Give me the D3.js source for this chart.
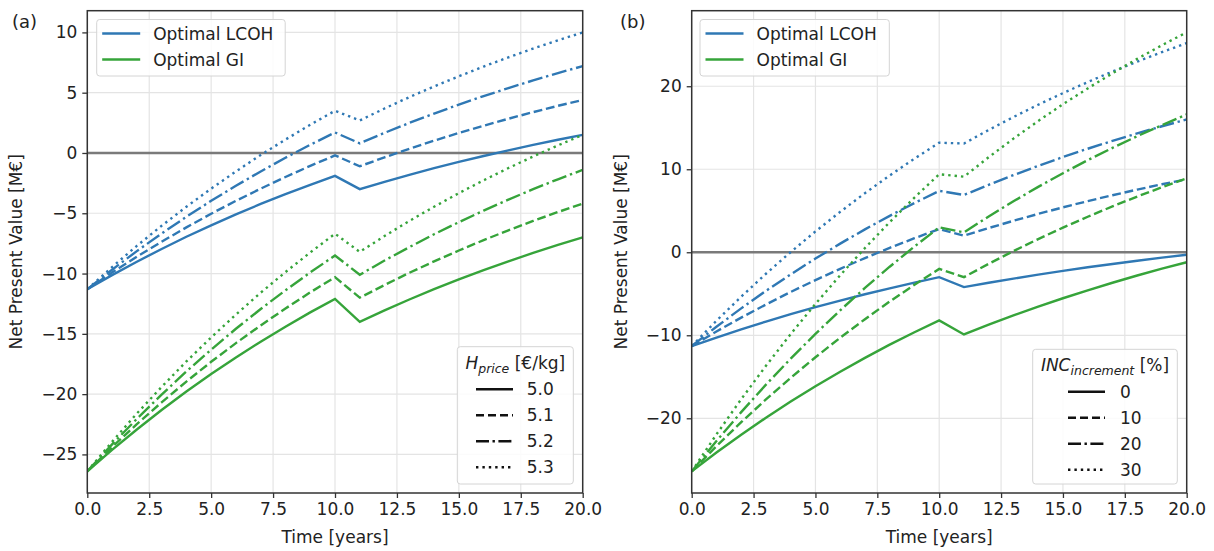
<!DOCTYPE html>
<html><head><meta charset="utf-8">
<script src="https://cdn.jsdelivr.net/npm/d3@7"></script>
<style>
body{margin:0;background:#fff;}
svg{font-family:"DejaVu Sans",sans-serif;}
</style></head>
<body>
<svg id="chart" width="1214" height="551"></svg>
<script>
// ---------- DATA ----------
const years = [0,1,2,3,4,5,6,7,8,9,10,11,12,13,14,15,16,17,18,19,20];
const xTicks = [0,2.5,5,7.5,10,12.5,15,17.5,20];
const yTicksA = [-25,-20,-15,-10,-5,0,5,10];
const yTicksB = [-20,-10,0,10,20];
const legendLabelsA = ["5.0","5.1","5.2","5.3"];
const legendLabelsB = ["0","10","20","30"];
const seriesNames = ["Optimal LCOH","Optimal GI"];

// Panel (a): H_price sensitivity
const a_LCOH_50 = [-11.3,-10.13,-9.02,-7.96,-6.95,-6.00,-5.10,-4.23,-3.42,-2.64,-1.90,-3.00,-2.39,-1.81,-1.26,-0.74,-0.25,0.22,0.67,1.10,1.50];
const a_LCOH_51 = [-11.3,-9.92,-8.60,-7.36,-6.17,-5.04,-3.97,-2.96,-1.99,-1.07,-0.20,-1.10,-0.36,0.35,1.02,1.66,2.26,2.84,3.39,3.91,4.40];
const a_LCOH_52 = [-11.3,-9.68,-8.14,-6.68,-5.29,-3.97,-2.72,-1.53,-0.40,0.68,1.70,0.80,1.67,2.49,3.27,4.01,4.72,5.38,6.02,6.63,7.20];
const a_LCOH_53 = [-11.3,-9.46,-7.70,-6.04,-4.46,-2.96,-1.53,-0.17,1.11,2.34,3.50,2.70,3.69,4.63,5.52,6.36,7.17,7.93,8.66,9.34,10.00];
const a_GI_50 = [-26.4,-24.62,-22.93,-21.32,-19.79,-18.34,-16.96,-15.65,-14.41,-13.22,-12.10,-14.00,-13.05,-12.15,-11.30,-10.49,-9.72,-8.99,-8.29,-7.63,-7.00];
const a_GI_51 = [-26.4,-24.39,-22.49,-20.68,-18.96,-17.32,-15.77,-14.30,-12.90,-11.56,-10.30,-12.00,-10.95,-9.94,-8.99,-8.09,-7.23,-6.41,-5.64,-4.90,-4.20];
const a_GI_52 = [-26.4,-24.17,-22.05,-20.04,-18.12,-16.31,-14.58,-12.94,-11.39,-9.91,-8.50,-10.10,-8.92,-7.81,-6.74,-5.74,-4.78,-3.87,-3.00,-2.18,-1.40];
const a_GI_53 = [-26.4,-23.95,-21.61,-19.40,-17.29,-15.30,-13.40,-11.59,-9.88,-8.25,-6.70,-8.20,-6.89,-5.64,-4.46,-3.33,-2.27,-1.25,-0.29,0.63,1.50];

// Panel (b): INC increment sensitivity
const b_LCOH_0  = [-11.3,-10.27,-9.28,-8.35,-7.46,-6.62,-5.82,-5.06,-4.34,-3.65,-3.00,-4.20,-3.67,-3.17,-2.70,-2.24,-1.81,-1.41,-1.02,-0.65,-0.30];
const b_LCOH_10 = [-11.3,-9.54,-7.87,-6.29,-4.78,-3.35,-1.99,-0.70,0.53,1.69,2.80,2.00,2.92,3.79,4.62,5.41,6.16,6.87,7.55,8.19,8.80];
const b_LCOH_20 = [-11.3,-8.97,-6.76,-4.65,-2.66,-0.76,1.04,2.76,4.39,5.93,7.40,6.90,8.13,9.30,10.41,11.47,12.47,13.42,14.32,15.18,16.00];
const b_LCOH_30 = [-11.3,-8.25,-5.35,-2.59,0.03,2.51,4.87,7.12,9.25,11.28,13.20,13.10,14.74,16.29,17.77,19.17,20.50,21.77,22.97,24.11,25.20];
const b_GI_0  = [-26.4,-24.13,-21.98,-19.93,-17.99,-16.14,-14.39,-12.72,-11.13,-9.63,-8.20,-9.90,-8.72,-7.61,-6.54,-5.54,-4.58,-3.67,-2.80,-1.98,-1.20];
const b_GI_10 = [-26.4,-23.36,-20.47,-17.73,-15.12,-12.65,-10.29,-8.06,-5.93,-3.92,-2.00,-3.00,-1.39,0.14,1.59,2.97,4.28,5.52,6.71,7.83,8.90];
const b_GI_20 = [-26.4,-22.74,-19.26,-15.95,-12.81,-9.83,-6.99,-4.30,-1.74,0.69,3.00,2.40,4.32,6.14,7.88,9.52,11.09,12.57,13.98,15.32,16.60];
const b_GI_30 = [-26.4,-21.94,-17.70,-13.68,-9.85,-6.22,-2.77,0.51,3.63,6.59,9.40,9.10,11.45,13.69,15.81,17.83,19.74,21.56,23.30,24.94,26.50];

// ---------- STYLE ----------
const BLUE = "#2f78b4", GREEN = "#36a43a";
const LW = 2.4;
const dashes = [null, "8.8,3.8", "15,3.8,2.4,3.8", "2.4,4"];
const legendDashes = [null, "8,4", "13,3.5,2.4,3.5", "2.4,4"];
const FS = 17;

const svg = d3.select("#chart");

function panel(opts){
  const {x0,x1,y0,y1,yDomain,yTicks,blue,green,tag,labelX,legendTitle,legendLabels,lg} = opts;
  const x = d3.scaleLinear().domain([0,20]).range([x0,x1]);
  const y = d3.scaleLinear().domain(yDomain).range([y1,y0]);
  const g = svg.append("g");

  // grid
  g.append("g").selectAll("line").data(xTicks).join("line")
    .attr("x1",d=>x(d)).attr("x2",d=>x(d)).attr("y1",y0).attr("y2",y1)
    .attr("stroke","#e4e4e4").attr("stroke-width",1.2);
  g.append("g").selectAll("line").data(yTicks).join("line")
    .attr("y1",d=>y(d)).attr("y2",d=>y(d)).attr("x1",x0).attr("x2",x1)
    .attr("stroke","#e4e4e4").attr("stroke-width",1.2);

  // zero line
  g.append("line").attr("x1",x0).attr("x2",x1).attr("y1",y(0)).attr("y2",y(0))
    .attr("stroke","#7a7a7a").attr("stroke-width",2.5);

  const line = d3.line().x((d,i)=>x(years[i])).y(d=>y(d));
  const clipId = "clip"+tag;
  svg.append("clipPath").attr("id",clipId).append("rect")
    .attr("x",x0).attr("y",y0).attr("width",x1-x0).attr("height",y1-y0);
  const lines = g.append("g").attr("clip-path",`url(#${clipId})`);
  blue.forEach((s,i)=>{
    lines.append("path").attr("d",line(s)).attr("fill","none").attr("stroke",BLUE)
      .attr("stroke-width",LW).attr("stroke-dasharray",dashes[i]);
  });
  green.forEach((s,i)=>{
    lines.append("path").attr("d",line(s)).attr("fill","none").attr("stroke",GREEN)
      .attr("stroke-width",LW).attr("stroke-dasharray",dashes[i]);
  });

  // axes
  const fmtX = d3.format(".1f");
  const xAxis = d3.axisBottom(x).tickValues(xTicks).tickFormat(d=>fmtX(d)).tickSize(5).tickPadding(5);
  const yAxis = d3.axisLeft(y).tickValues(yTicks).tickFormat(d=>d<0?"\u2212"+Math.abs(d):String(d)).tickSize(5).tickPadding(5);
  const gx = g.append("g").attr("transform",`translate(0,${y1})`).call(xAxis);
  const gy = g.append("g").attr("transform",`translate(${x0},0)`).call(yAxis);
  [gx,gy].forEach(a=>{
    a.select(".domain").remove();
    a.selectAll(".tick line").attr("stroke","#333").attr("stroke-width",1.3);
    a.selectAll(".tick text").attr("fill","#222").style("font-size",FS+"px").style("font-family","DejaVu Sans");
  });
  // frame
  g.append("rect").attr("x",x0).attr("y",y0).attr("width",x1-x0).attr("height",y1-y0)
    .attr("fill","none").attr("stroke","#333").attr("stroke-width",1.5);

  // axis labels
  g.append("text").attr("x",(x0+x1)/2).attr("y",543).attr("text-anchor","middle")
    .style("font-size",FS+"px").attr("fill","#222").text("Time [years]");
  g.append("text").attr("transform",`translate(${labelX},${(y0+y1)/2}) rotate(-90)`)
    .attr("text-anchor","middle").style("font-size",FS+"px").attr("fill","#222")
    .text("Net Present Value [M\u20ac]");
  // panel tag
  g.append("text").attr("x",opts.tagX).attr("y",28).style("font-size","18px").attr("fill","#222").text(`(${tag})`);

  // upper legend
  const ul = opts.ul;
  g.append("rect").attr("x",ul.x).attr("y",19.5).attr("width",ul.w).attr("height",56.5).attr("rx",3)
    .attr("fill","white").attr("fill-opacity",0.85).attr("stroke","#d4d4d4").attr("stroke-width",1);
  [BLUE,GREEN].forEach((c,i)=>{
    const yy = 33.5 + i*26;
    g.append("line").attr("x1",ul.x+5.5).attr("x2",ul.x+43.5).attr("y1",yy).attr("y2",yy)
      .attr("stroke",c).attr("stroke-width",LW+0.2);
    g.append("text").attr("x",ul.x+56.5).attr("y",yy+6).style("font-size",FS+"px").attr("fill","#222").text(seriesNames[i]);
  });

  // lower legend
  g.append("rect").attr("x",lg.x).attr("y",lg.y).attr("width",lg.w).attr("height",lg.h).attr("rx",3)
    .attr("fill","white").attr("fill-opacity",0.85).attr("stroke","#d4d4d4").attr("stroke-width",1);
  const t = g.append("text").attr("x",lg.x+lg.w/2).attr("y",lg.y+22).attr("text-anchor","middle")
    .style("font-size",FS+"px").attr("fill","#222");
  t.append("tspan").style("font-style","italic").text(legendTitle[0]);
  t.append("tspan").style("font-style","italic").style("font-size","12.5px").attr("dy",4).text(legendTitle[1]);
  t.append("tspan").attr("dy",-4).text(" "+legendTitle[2]);
  legendLabels.forEach((lab,i)=>{
    const yy = lg.y + 42.5 + i*26;
    g.append("line").attr("x1",lg.lx).attr("x2",lg.lx+37).attr("y1",yy).attr("y2",yy)
      .attr("stroke","#111").attr("stroke-width",LW+0.2).attr("stroke-dasharray",legendDashes[i]);
    g.append("text").attr("x",lg.tx).attr("y",yy+6).style("font-size",FS+"px").attr("fill","#222").text(lab);
  });
}

panel({x0:87.3,x1:582.7,y0:10.7,y1:493,yDomain:[-28.2,11.8],yTicks:yTicksA,
  blue:[a_LCOH_50,a_LCOH_51,a_LCOH_52,a_LCOH_53],green:[a_GI_50,a_GI_51,a_GI_52,a_GI_53],
  tag:"a",tagX:12,labelX:22,ul:{x:96.7,w:188.5},
  legendTitle:["H","price","[\u20ac/kg]"],legendLabels:legendLabelsA,
  lg:{x:457.3,y:346.7,w:116,h:137.3,lx:476,tx:526.7}});

panel({x0:691.7,x1:1186.7,y0:10.7,y1:493,yDomain:[-29.0,29.1],yTicks:yTicksB,
  blue:[b_LCOH_0,b_LCOH_10,b_LCOH_20,b_LCOH_30],green:[b_GI_0,b_GI_10,b_GI_20,b_GI_30],
  tag:"b",tagX:620,labelX:627,ul:{x:700,w:189.3},
  legendTitle:["INC","increment","[%]"],legendLabels:legendLabelsB,
  lg:{x:1032.7,y:349.3,w:144.6,h:134.7,lx:1068,tx:1120}});
</script>
</body></html>
